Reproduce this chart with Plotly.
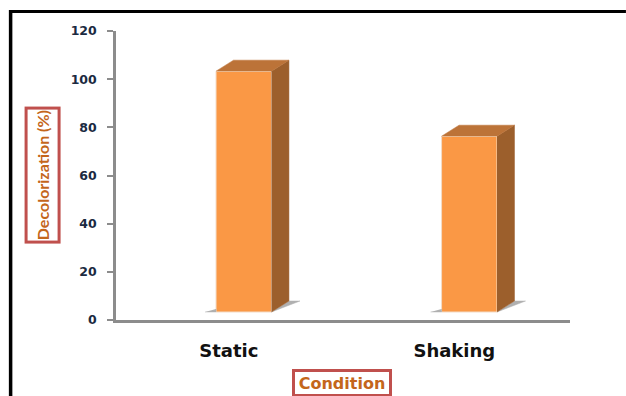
import plotly.graph_objects as go

# Chart data
categories = ["Static", "Shaking"]
decolorization = [100, 73]
y_ticks = [0, 20, 40, 60, 80, 100, 120]

# Canvas and plot area, in pixels
W, H = 626, 396
LEFT, RIGHT, TOP, BOTTOM = 115.5, 570, 31, 320
PLOT_W, PLOT_H = RIGHT - LEFT, BOTTOM - TOP
Y_MAX = 120
X_MIN, X_MAX = -0.5, 1.513

# Pseudo-3D column construction
UNIT_X = PLOT_W / (X_MAX - X_MIN)      # pixels per category
UNIT_Y = PLOT_H / Y_MAX                # pixels per percent
FLOOR = 8 / UNIT_Y                     # lift of the front face above the axis
BAR_W = 55.5 / UNIT_X
BAR_SHIFT = 15 / UNIT_X                # front face sits right of the category centre
DX, DY = 17.5 / UNIT_X, 11 / UNIT_Y    # receding depth of the column
SHADOW_RIGHT = 11 / UNIT_X
SHADOW_LEFT = 11 / UNIT_X
SHADOW_LIFT = 3 / UNIT_Y

FRONT = "#FA9845"
SIDE = "#9C5F2C"
TOP_FACE = "#BC7338"
SHADOW = "#B0B0B0"
EDGE = "#F3DCC8"
AXIS = "#8C8C8C"
TICK_FONT = "#1B2A41"
TITLE_FONT = "#C4661B"
BOX = "#C0504D"

fig = go.Figure()


def polygon(xs, ys, color):
    fig.add_trace(go.Scatter(
        x=xs, y=ys, mode="lines", fill="toself", fillcolor=color,
        line=dict(color=color, width=0.5), hoverinfo="skip", showlegend=False,
    ))


for i, value in enumerate(decolorization):
    x0 = i + BAR_SHIFT - BAR_W / 2
    x1 = x0 + BAR_W
    y0 = FLOOR
    y1 = FLOOR + value
    # floor shadow wedges either side of the column
    polygon([x0 - SHADOW_LEFT, x0, x0], [y0, y0, y0 + SHADOW_LIFT], SHADOW)
    polygon(
        [x1, x1 + DX + SHADOW_RIGHT, x1 + DX],
        [y0, y0 + DY, y0 + DY],
        SHADOW,
    )
    # side and top faces recede from the front face
    polygon([x1, x1 + DX, x1 + DX, x1], [y0, y0 + DY, y1 + DY, y1], SIDE)
    polygon([x0, x0 + DX, x1 + DX, x1], [y1, y1 + DY, y1 + DY, y1], TOP_FACE)

fig.add_trace(go.Bar(
    x=list(range(len(categories))),
    y=decolorization,
    base=FLOOR,
    width=BAR_W,
    offset=BAR_SHIFT - BAR_W / 2,
    marker=dict(color=FRONT, line=dict(color=EDGE, width=1)),
    showlegend=False,
))

fig.update_layout(
    width=W, height=H,
    margin=dict(l=LEFT, r=W - RIGHT, t=TOP, b=H - BOTTOM, autoexpand=False),
    paper_bgcolor="white", plot_bgcolor="white",
    font=dict(family="DejaVu Sans"),
    xaxis=dict(
        range=[X_MIN, X_MAX],
        tickmode="array",
        tickvals=list(range(len(categories))),
        ticktext=[f"<b>{c}</b>" for c in categories],
        tickfont=dict(size=18, color="#111111"),
        ticks="", showgrid=False, zeroline=False,
        showline=True, linecolor=AXIS, linewidth=2.5,
        ticklabelstandoff=13,
    ),
    yaxis=dict(
        range=[0, Y_MAX],
        tickmode="array",
        tickvals=y_ticks,
        ticktext=[f"<b>{t}</b>" for t in y_ticks],
        tickfont=dict(size=12.5, color=TICK_FONT),
        ticks="outside", ticklen=6, tickwidth=1.5, tickcolor=AXIS,
        showgrid=False, zeroline=False,
        showline=True, linecolor=AXIS, linewidth=2.5,
        ticklabelstandoff=8,
    ),
    annotations=[
        dict(
            text="<b>Decolorization (%)</b>",
            xref="paper", yref="paper",
            x=(41.5 - LEFT) / PLOT_W, y=(BOTTOM - 175.5) / PLOT_H,
            xanchor="center", yanchor="middle",
            textangle=-90, showarrow=False,
            width=131, height=30,
            font=dict(family="Lato", size=16, color=TITLE_FONT),
            bordercolor=BOX, borderwidth=3, borderpad=0, bgcolor="white",
        ),
        dict(
            text="<b>Condition</b>",
            xref="paper", yref="paper",
            x=(341.5 - LEFT) / PLOT_W, y=(BOTTOM - 382.5) / PLOT_H,
            xanchor="center", yanchor="middle",
            showarrow=False,
            width=94, height=22,
            font=dict(size=16, color=TITLE_FONT),
            bordercolor=BOX, borderwidth=3, borderpad=0, bgcolor="white",
        ),
    ],
    shapes=[
        # heavy black frame around the figure
        dict(type="line", xref="paper", yref="paper",
             x0=(8.5 - LEFT) / PLOT_W, x1=(W - LEFT) / PLOT_W,
             y0=(BOTTOM - 11.5) / PLOT_H, y1=(BOTTOM - 11.5) / PLOT_H,
             line=dict(color="black", width=3)),
        dict(type="line", xref="paper", yref="paper",
             x0=(10 - LEFT) / PLOT_W, x1=(10 - LEFT) / PLOT_W,
             y0=(BOTTOM - 10) / PLOT_H, y1=(BOTTOM - H) / PLOT_H,
             line=dict(color="black", width=3.5)),
    ],
)

fig.write_html("out.html")
